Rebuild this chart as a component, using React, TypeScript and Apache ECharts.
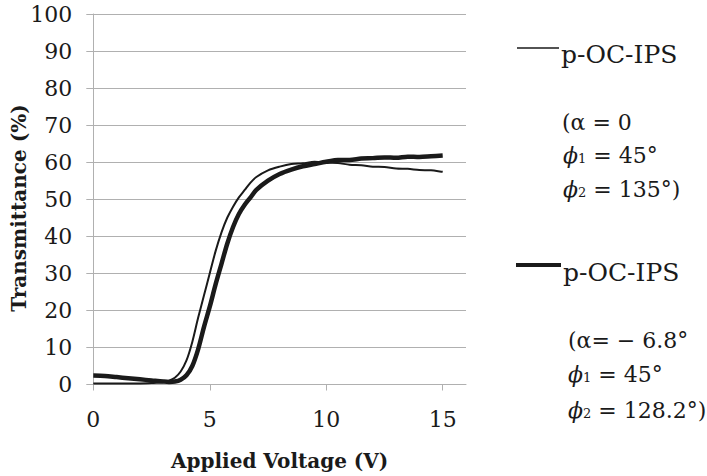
import React, { useEffect, useRef } from "react";
import * as echarts from "echarts";

const voltage = [0, 0.5, 1, 1.5, 2, 2.5, 3, 3.25, 3.5, 3.75, 4, 4.25, 4.5, 4.75, 5, 5.25, 5.5, 5.75, 6, 6.25, 6.5, 6.75, 7, 7.5, 8, 8.5, 9, 9.5, 10, 10.5, 11, 11.5, 12, 12.5, 13, 13.5, 14, 14.5, 15];
// alpha = 0 (thin line)
const thinT = [0.3, 0.3, 0.3, 0.3, 0.3, 0.4, 0.6, 1.0, 1.8, 3.5, 6.5, 11.5, 18, 24, 30, 36, 41, 45, 48, 50.5, 52.5, 54.5, 56, 57.8, 58.8, 59.5, 59.7, 60.1, 59.9, 59.8, 59.3, 59.2, 58.8, 58.7, 58.3, 58.2, 57.9, 57.8, 57.4];
// alpha = -6.8 deg (thick line)
const thickT = [2.4, 2.3, 2.0, 1.7, 1.4, 1.1, 0.8, 0.7, 0.8, 1.3, 2.5, 5, 9.5, 15.5, 21, 27, 32.5, 38, 42.5, 46, 48.5, 50.5, 52.5, 55, 56.8, 58, 58.9, 59.5, 60.1, 60.6, 60.6, 61.0, 61.1, 61.3, 61.2, 61.5, 61.4, 61.6, 61.8];

const xTicks = [0, 5, 10, 15];
const seriesNames = ["p-OC-IPS", "p-OC-IPS"];
const yTitle = "Transmittance (%)";
const legend1Lines = ["(α = 0", "{phi|ϕ}{sub|1} = 45°", "{phi|ϕ}{sub|2} = 135°)"];
const legend2Lines = ["(α= − 6.8°", "{phi|ϕ}{sub|1} = 45°", "{phi|ϕ}{sub|2} = 128.2°)"];

const FONT = "DejaVu Serif";
const INK = "#1a1a1a";
const GRAY = "#b0b0b0";

export default function App() {
  const ref = useRef<HTMLDivElement>(null);
  useEffect(() => {
    if (!ref.current) return;
    const chart = echarts.init(ref.current, undefined, { renderer: "svg" });
    const rich = {
      phi: { fontFamily: FONT, fontStyle: "italic", fontSize: 22, fill: INK, color: INK },
      sub: { fontFamily: FONT, fontSize: 13, fill: INK, color: INK, padding: [7, 0, 0, 0] },
    };
    const paramText = (x: number, y: number, t: string) => ({
      type: "text",
      x,
      y,
      style: {
        text: t,
        fontFamily: FONT,
        fontSize: 22,
        fill: INK,
        verticalAlign: "middle",
        align: "left",
        rich,
      },
    });
    const option: any = {
      animation: false,
      backgroundColor: "#ffffff",
      grid: { left: 93.3, right: 241, top: 14, bottom: 91.5, outerBoundsMode: "none", containLabel: false },
      xAxis: {
        type: "value",
        min: 0,
        max: 16,
        interval: 5,
        name: "Applied Voltage (V)",
        nameLocation: "middle",
        nameGap: 66,
        nameTextStyle: { fontFamily: FONT, fontWeight: "bold", fontSize: 20, color: INK },
        axisLine: { show: true, lineStyle: { color: GRAY, width: 1 } },
        axisTick: { show: true, length: 6, lineStyle: { color: GRAY }, customValues: xTicks },
        axisLabel: { fontFamily: FONT, fontSize: 22, color: INK, margin: 24, customValues: xTicks },
        splitLine: { show: false },
      },
      yAxis: {
        type: "value",
        min: 0,
        max: 100,
        interval: 10,
        axisLine: { show: true, lineStyle: { color: GRAY, width: 1 } },
        axisTick: { show: true, length: 7, lineStyle: { color: GRAY } },
        axisLabel: { fontFamily: FONT, fontSize: 22, color: INK, margin: 21 },
        splitLine: { show: true, lineStyle: { color: GRAY, width: 1 } },
      },
      series: [
        {
          name: seriesNames[1],
          type: "line",
          data: voltage.map((v, i) => [v, thickT[i]]),
          showSymbol: false,
          smooth: 0.3,
          lineStyle: { color: INK, width: 4.5 },
        },
        {
          name: seriesNames[0],
          type: "line",
          data: voltage.map((v, i) => [v, thinT[i]]),
          showSymbol: false,
          smooth: 0.3,
          lineStyle: { color: INK, width: 2 },
        },
      ],
      graphic: [
        {
          type: "text",
          x: 19,
          y: 208,
          rotation: Math.PI / 2,
          style: { text: yTitle, fontFamily: FONT, fontWeight: "bold", fontSize: 20, fill: INK, align: "center", verticalAlign: "middle" },
        },
        { type: "line", shape: { x1: 517, y1: 48, x2: 559, y2: 48 }, style: { stroke: INK, lineWidth: 1.5 } },
        { type: "text", x: 561, y: 54, style: { text: seriesNames[0], fontFamily: FONT, fontSize: 25, fill: INK, verticalAlign: "middle" } },
        paramText(562, 122, legend1Lines[0]),
        paramText(563, 155, legend1Lines[1]),
        paramText(563, 189, legend1Lines[2]),
        { type: "line", shape: { x1: 516, y1: 265, x2: 561, y2: 265 }, style: { stroke: INK, lineWidth: 4 } },
        { type: "text", x: 563, y: 272, style: { text: seriesNames[1], fontFamily: FONT, fontSize: 25, fill: INK, verticalAlign: "middle" } },
        paramText(568, 340, legend2Lines[0]),
        paramText(568, 374, legend2Lines[1]),
        paramText(568, 410, legend2Lines[2]),
      ],
    };
    chart.setOption(option);
    return () => chart.dispose();
  }, []);
  return (
    <div
      ref={ref}
      style={{ position: "fixed", left: 0, top: 0, width: 707, height: 476, background: "#fff" }}
    />
  );
}
